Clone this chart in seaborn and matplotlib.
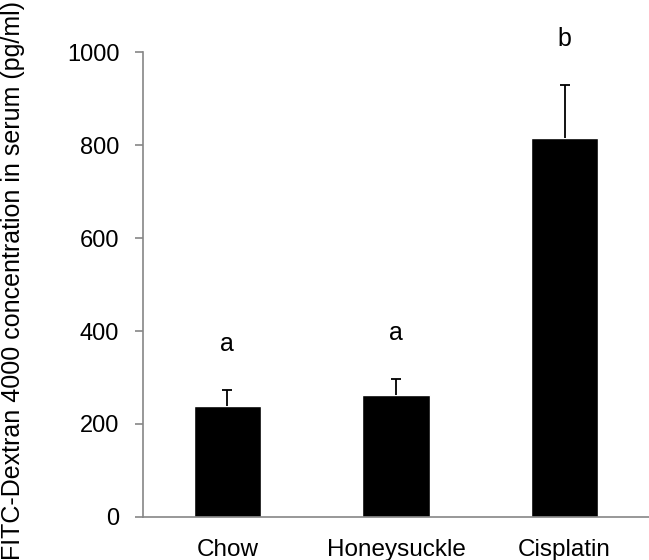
import matplotlib
matplotlib.use("Agg")
import matplotlib.pyplot as plt
import seaborn as sns
import numpy as np

# data
groups = ["Chow", "Honeysuckle", "Cisplatin"]
means = [239, 262, 815]
errors = [35, 35, 114]
letters = ["a", "a", "b"]

sns.set_theme(style="white")
plt.rcParams["font.family"] = ["Liberation Sans", "DejaVu Sans"]

grey = "#868686"

fig = plt.figure(figsize=(6.49, 5.6), dpi=100)
ax = fig.add_axes([0.2203, 0.0768, 0.7797, 0.8303])

sns.barplot(x=groups, y=means, color="black", saturation=1, width=0.4,
            errorbar=None, ax=ax)

# upper-only error bars
_, caps, _ = ax.errorbar(x=np.arange(len(groups)), y=means,
                         yerr=[np.zeros(len(errors)), errors],
                         fmt="none", ecolor="black", elinewidth=1.3,
                         capsize=3.3, capthick=1.3)
caps[0].set_visible(False)

# significance letters above the error bars
for i, (m, e, lab) in enumerate(zip(means, errors, letters)):
    ax.text(i, m + e + 98, lab, ha="center", va="center",
            fontsize=18, color="black", clip_on=False)

ax.set_ylim(0, 1000)
ax.set_xlim(-0.5, 2.5)
ax.set_yticks(range(0, 1001, 200))
ax.set_xlabel("")
ax.set_ylabel("")

for side in ["top", "right"]:
    ax.spines[side].set_visible(False)
for side in ["left", "bottom"]:
    ax.spines[side].set_color(grey)
    ax.spines[side].set_linewidth(1.2)

ax.tick_params(axis="y", which="major", direction="out", length=6,
               width=1.2, color=grey, labelsize=17, labelcolor="black", pad=11,
               left=True)
ax.tick_params(axis="x", length=0, labelsize=17.5, labelcolor="black", pad=16)

fig.text(13 / 649, 0.5, "FITC-Dextran 4000 concentration in serum (pg/ml)",
         rotation=90, ha="center", va="center", fontsize=18, color="black")

fig.savefig("out.png", dpi=100)
